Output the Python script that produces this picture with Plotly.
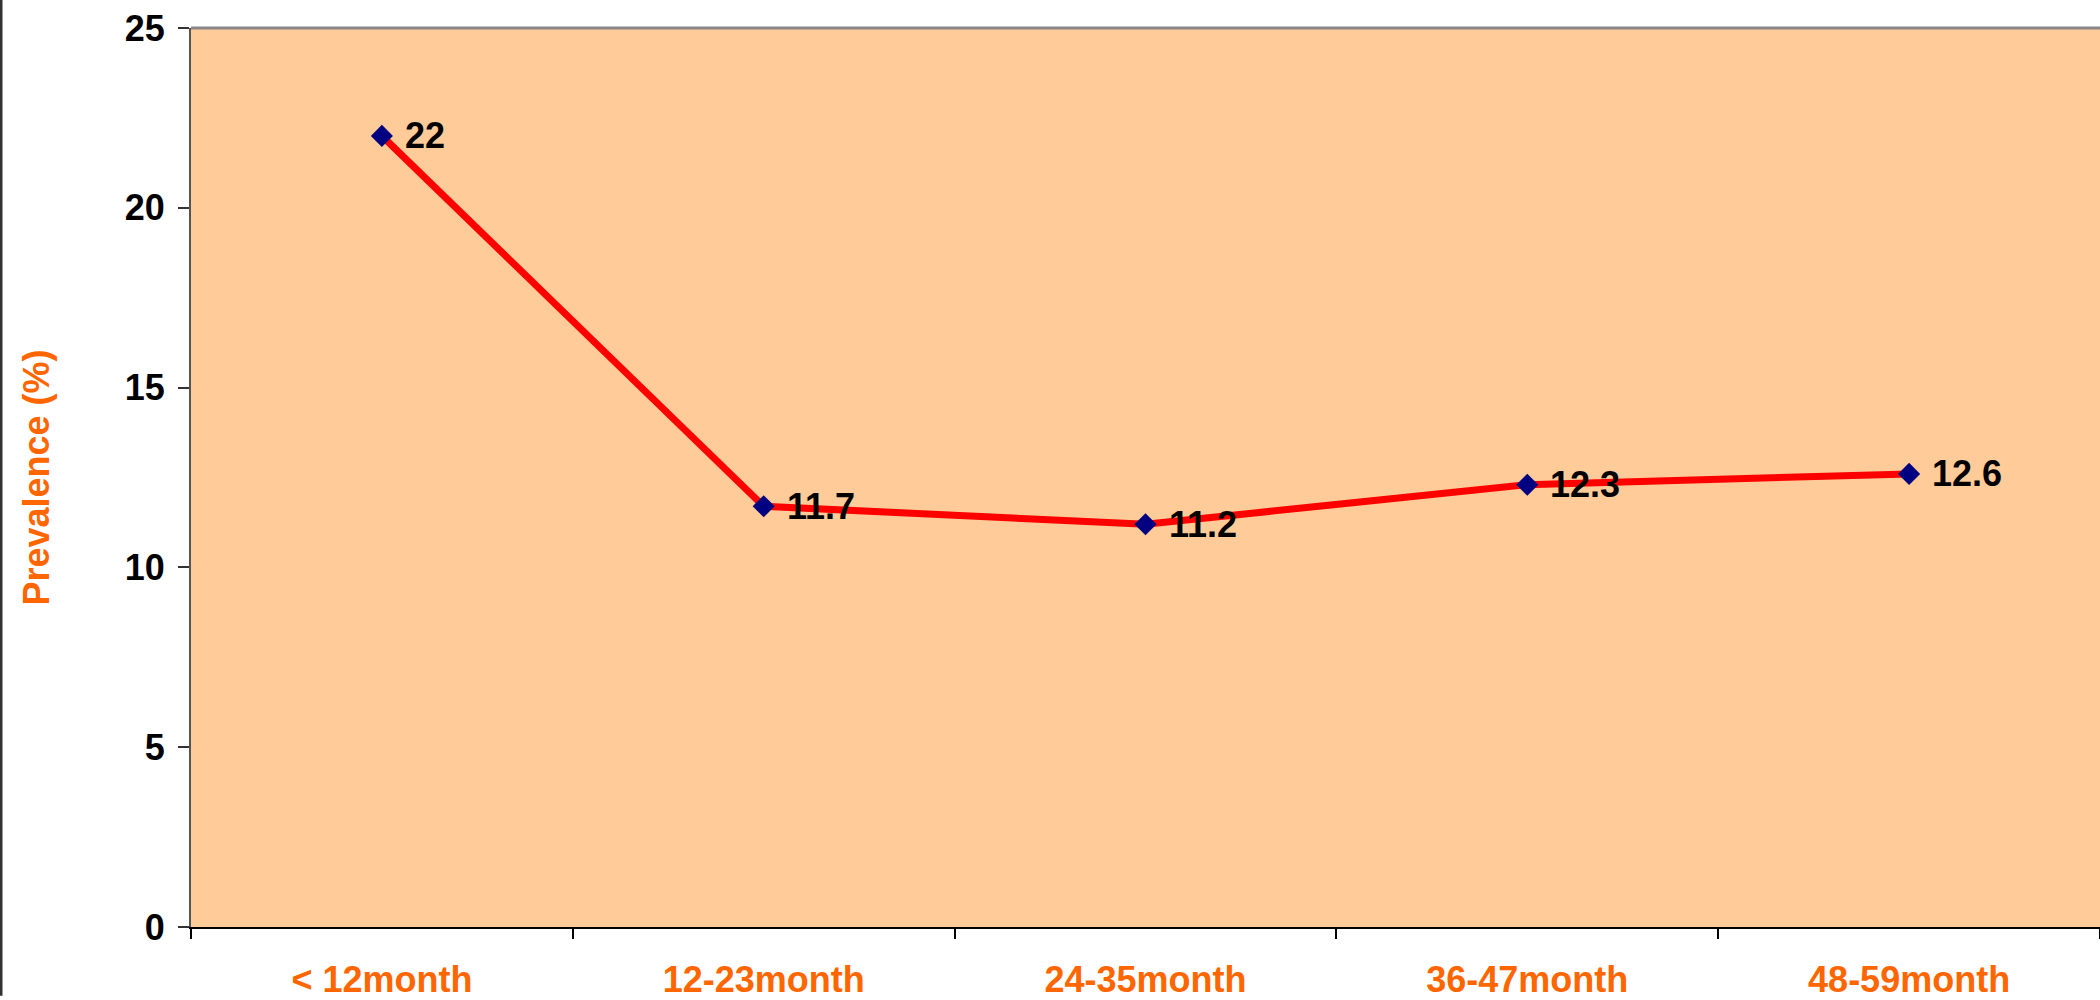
import plotly.graph_objects as go

categories = ["< 12month", "12-23month", "24-35month", "36-47month", "48-59month"]
prevalence = [22, 11.7, 11.2, 12.3, 12.6]
labels = ["22", "11.7", "11.2", "12.3", "12.6"]
y_ticks = [0, 5, 10, 15, 20, 25]

W, H = 2100, 1000
L, R, T, B = 191, 0, 28, 69
FONT = "Liberation Sans, Arial"

fig = go.Figure()
fig.add_trace(go.Scatter(
    x=categories, y=prevalence, mode="lines+markers",
    line=dict(color="#FF0000", width=7),
    marker=dict(symbol="diamond", size=17, color="#000080"),
    cliponaxis=False, showlegend=False,
))

annotations = [
    dict(x=c, y=v, text=t, xref="x", yref="y", showarrow=False,
         xanchor="left", yanchor="middle", xshift=21,
         font=dict(family=FONT, size=36, color="black", weight="bold"))
    for c, v, t in zip(categories, prevalence, labels)
]

fig.update_layout(
    width=W, height=H,
    margin=dict(l=L, r=R, t=T, b=B, pad=0),
    paper_bgcolor="white", plot_bgcolor="#FFCC99",
    font=dict(family=FONT, size=36, color="black"),
    xaxis=dict(
        type="category", range=[-0.5, 4.5], tickson="boundaries",
        ticks="outside", ticklen=10, tickwidth=2, tickcolor="#000000",
        showline=True, linecolor="#000000", linewidth=2,
        showgrid=False, zeroline=False,
        tickfont=dict(family=FONT, size=36, color="#FF6600", weight="bold"),
        ticklabelstandoff=20,
    ),
    yaxis=dict(
        range=[0, 25], tickvals=y_ticks,
        ticks="outside", ticklen=11, tickwidth=2, tickcolor="#333333",
        showline=True, linecolor="#555555", linewidth=2,
        showgrid=False, zeroline=False,
        tickfont=dict(family=FONT, size=36, color="black", weight="bold"),
        ticklabelstandoff=6,
        title=dict(text="Prevalence (%)", standoff=64,
                   font=dict(family=FONT, size=36, color="#FF6600", weight="bold")),
    ),
    annotations=annotations,
    shapes=[
        dict(type="line", xref="paper", yref="paper", x0=0, x1=1, y0=1, y1=1,
             line=dict(color="#888888", width=3)),
        dict(type="line", xref="paper", yref="paper",
             x0=(1 - L) / (W - L - R), x1=(1 - L) / (W - L - R),
             y0=-B / (H - T - B), y1=1 + T / (H - T - B),
             line=dict(color="#333333", width=3)),
    ],
)

fig.write_html("out.html", config={"displayModeBar": False},
               post_script="document.body.style.margin='0';document.body.style.overflow='hidden';")
